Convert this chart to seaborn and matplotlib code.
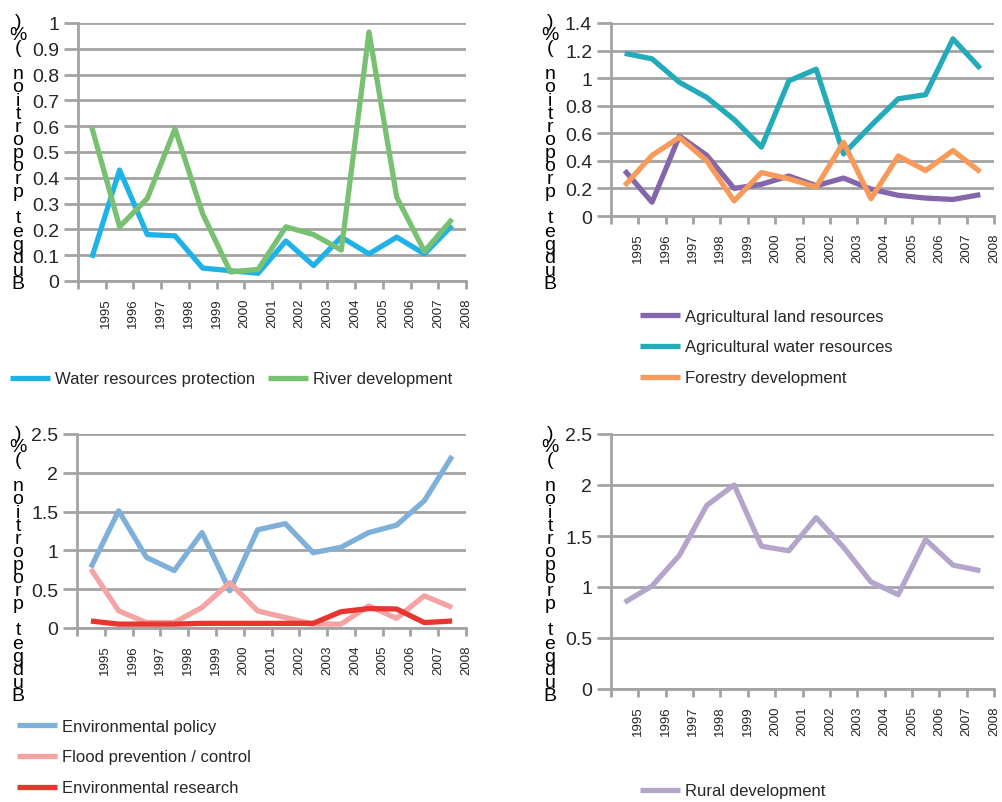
import numpy as np
import pandas as pd
import matplotlib
matplotlib.use("Agg")
import matplotlib.pyplot as plt
import seaborn as sns

# ---- data -------------------------------------------------------------
years = ["1995", "1996", "1997", "1998", "1999", "2000", "2001",
         "2002", "2003", "2004", "2005", "2006", "2007", "2008"]

water_protection = [0.09, 0.43, 0.18, 0.175, 0.05, 0.04, 0.03,
                    0.155, 0.06, 0.17, 0.105, 0.17, 0.105, 0.215]
river_development = [0.595, 0.21, 0.32, 0.59, 0.26, 0.035, 0.045,
                     0.21, 0.18, 0.12, 0.965, 0.325, 0.115, 0.24]

agri_land = [0.33, 0.10, 0.58, 0.44, 0.20, 0.23, 0.29,
             0.22, 0.275, 0.195, 0.15, 0.13, 0.12, 0.155]
agri_water = [1.18, 1.14, 0.97, 0.86, 0.70, 0.50, 0.98,
              1.065, 0.45, 0.655, 0.85, 0.88, 1.285, 1.07]
forestry = [0.22, 0.44, 0.57, 0.40, 0.11, 0.315, 0.27,
            0.21, 0.535, 0.125, 0.435, 0.33, 0.475, 0.32]

env_policy = [0.78, 1.51, 0.91, 0.74, 1.23, 0.48, 1.265,
              1.345, 0.97, 1.04, 1.23, 1.325, 1.64, 2.215]
flood_control = [0.76, 0.22, 0.07, 0.07, 0.265, 0.585, 0.22,
                 0.135, 0.05, 0.05, 0.285, 0.125, 0.415, 0.265]
env_research = [0.09, 0.05, 0.05, 0.05, 0.06, 0.06, 0.06,
                0.06, 0.06, 0.21, 0.25, 0.245, 0.07, 0.09]

rural_development = [0.85, 1.01, 1.31, 1.80, 2.00, 1.40, 1.355,
                     1.68, 1.39, 1.05, 0.925, 1.465, 1.215, 1.16]

ylabel_text = "Budget proportion (%)"

# ---- style ------------------------------------------------------------
sns.set_theme(style="white")
plt.rcParams["font.family"] = ["Liberation Sans", "DejaVu Sans"]
GRID = "#a3a3a3"

W, H = 1002, 803
fig = plt.figure(figsize=(W / 100, H / 100), dpi=100)


def px_axes(x0, x1, ytop, ybot):
    return fig.add_axes([x0 / W, (H - ybot) / H, (x1 - x0) / W, (ybot - ytop) / H])


def draw_panel(ax, series, ymax, ystep):
    xs = np.arange(len(years))
    handles = []
    for label, values, color in series:
        df = pd.DataFrame({"x": xs, "y": values})
        sns.lineplot(data=df, x="x", y="y", ax=ax, color=color, linewidth=3.8,
                     label=label, legend=False, solid_capstyle="butt")
        handles.append(ax.lines[-1])
    ax.set_xlim(-0.5, len(years) - 0.5)
    ax.set_ylim(0, ymax)
    yt = np.round(np.arange(0, ymax + ystep / 2, ystep), 2)
    ax.set_yticks(yt)
    ax.set_yticklabels([f"{v:g}" for v in yt], fontsize=14)
    ax.set_xticks(np.arange(-0.5, len(years)))
    ax.set_xticklabels([""] + years, rotation=90, fontsize=9.5, va="top")
    ax.yaxis.grid(True, color=GRID, linewidth=2.0)
    ax.set_axisbelow(True)
    for s in ("top", "right"):
        ax.spines[s].set_visible(False)
    for s in ("left", "bottom"):
        ax.spines[s].set_color(GRID)
        ax.spines[s].set_linewidth(2.0)
    ax.tick_params(axis="y", length=10, width=2.0, color=GRID, pad=3.5, left=True)
    ax.tick_params(axis="x", length=6, width=2.0, color=GRID, pad=6, bottom=True)
    ax.set_xlabel("")
    ax.set_ylabel("")
    return handles


def stacked_label(xc, ytop):
    # axis title written as upright letters stacked bottom-to-top
    txt = "\n".join(reversed(ylabel_text))
    fig.text(xc / W, (H - ytop) / H, txt, ha="center", va="top",
             fontsize=14, linespacing=0.7, color="black")


# ---- panels -----------------------------------------------------------
ax1 = px_axes(78, 466, 24, 282)
h1 = draw_panel(ax1, [("Water resources protection", water_protection, "#1fb2e6"),
                      ("River development", river_development, "#79c172")], 1.0, 0.1)

ax2 = px_axes(611, 994, 24, 217)
h2 = draw_panel(ax2, [("Agricultural land resources", agri_land, "#8466aa"),
                      ("Agricultural water resources", agri_water, "#23abb9"),
                      ("Forestry development", forestry, "#f79a5a")], 1.4, 0.2)

ax3 = px_axes(77, 466, 435, 629)
h3 = draw_panel(ax3, [("Environmental policy", env_policy, "#7eb0da"),
                      ("Flood prevention / control", flood_control, "#f5a3a3"),
                      ("Environmental research", env_research, "#e8352f")], 2.5, 0.5)

ax4 = px_axes(611, 994, 435, 690)
h4 = draw_panel(ax4, [("Rural development", rural_development, "#b6a5cb")], 2.5, 0.5)

for xc, ytop in [(18, 14), (550, 14), (18, 426), (550, 426)]:
    stacked_label(xc, ytop)

# ---- legends ----------------------------------------------------------
def add_legend(handles, x, y, ncol=1, spacing=0.9):
    fig.legend(handles=handles, loc="center left",
               bbox_to_anchor=(x / W, (H - y) / H), ncol=ncol, frameon=False,
               prop={"size": 12}, handlelength=2.4,
               handletextpad=0.3, columnspacing=0.8, labelspacing=spacing,
               borderpad=0, borderaxespad=0)

add_legend(h1, 10, 380, ncol=2)
add_legend(h2, 640, 348, spacing=0.95)
add_legend(h3, 17, 758, spacing=0.95)
add_legend(h4, 640, 792)

fig.savefig("out.png", dpi=100)
